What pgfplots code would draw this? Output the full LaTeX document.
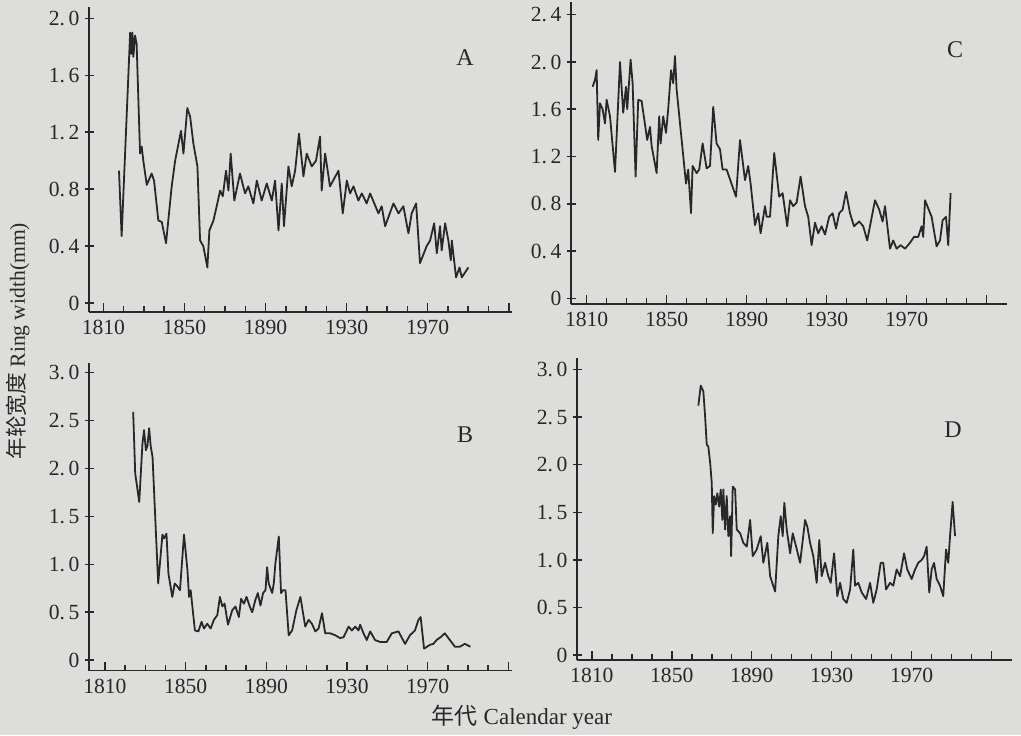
\documentclass[border=0pt]{standalone}
\usepackage{pgfplots}
\pgfplotsset{compat=1.18}
\usepackage{fontspec}
\setmainfont{Liberation Serif}
\newfontfamily\cjk{Noto Sans CJK SC}
\definecolor{paper}{RGB}{221,221,219}
\definecolor{ink}{RGB}{40,40,40}
\pgfplotsset{
  ringaxis/.style={
    scale only axis,
    axis x line*=bottom, axis y line*=left,
    axis line style={ink, line width=0.75pt},
    xtick={1810,1850,1890,1930,1970,2010},
    xticklabels={1810,1850,1890,1930,1970,{}},
    minor xtick={1820,1830,1840,1860,1870,1880,1900,1910,1920,1940,1950,1960,1980,1990,2000},
    tick align=inside,
    major tick length=4.5pt,
    minor tick length=3pt,
    tick style={ink, line width=0.75pt},
    y tick style={xshift=-2.2pt},
    yticklabel style={xshift=-1.2pt},
    xticklabel style={yshift=-0.5pt},
    tick label style={font=\fontsize{10.8}{12}\selectfont, text=ink},
    clip=false,
  },
  ringline/.style={ink, line width=0.9pt, no marks, line join=round},
}
\begin{document}
\begin{tikzpicture}
\path[use as bounding box, fill=paper] (0,0) rectangle (510.5pt,367.5pt);

% Panel A
\begin{axis}[ringaxis, at={(44.5pt,211.5pt)}, anchor=south west,
  width=211.5pt, height=152.5pt,
  xmin=1802.9, xmax=2011.6, ymin=-0.063, ymax=2.08,
  ytick={0,0.4,0.8,1.2,1.6,2.0},
  yticklabels={0,0.\,4,0.\,8,1.\,2,1.\,6,2.\,0}]
\addplot[ringline] coordinates {
(1817.7,0.93)(1819.0,0.47)(1823.2,1.90)(1823.7,1.75)(1824.3,1.90)(1824.8,1.73)
(1825.6,1.88)(1826.4,1.82)(1828.1,1.05)(1828.9,1.10)(1829.7,1.00)(1831.4,0.83)
(1833.8,0.91)(1835.0,0.86)(1837.1,0.58)(1838.8,0.57)(1840.9,0.42)(1843.7,0.82)
(1845.4,1.00)(1848.3,1.21)(1849.5,1.05)(1851.4,1.37)(1852.8,1.31)(1854.4,1.12)
(1856.4,0.96)(1857.7,0.44)(1859.3,0.40)(1861.3,0.25)(1862.3,0.51)(1864.3,0.58)
(1865.9,0.68)(1867.6,0.79)(1868.9,0.75)(1870.5,0.93)(1871.7,0.79)(1872.8,1.05)
(1874.6,0.72)(1877.4,0.91)(1879.9,0.77)(1881.5,0.82)(1884.0,0.70)(1885.7,0.86)
(1888.1,0.72)(1890.6,0.84)(1893.1,0.72)(1894.7,0.86)(1896.4,0.51)(1898.0,0.84)
(1899.1,0.54)(1901.3,0.96)(1902.9,0.82)(1904.6,0.93)(1906.5,1.19)(1908.7,0.89)
(1910.3,1.05)(1912.8,0.96)(1914.9,1.00)(1916.9,1.17)(1917.7,0.79)(1919.4,1.05)
(1921.8,0.82)(1926.0,0.93)(1928.1,0.63)(1930.1,0.86)(1931.7,0.77)(1933.4,0.82)
(1935.8,0.72)(1937.5,0.77)(1939.9,0.70)(1941.6,0.77)(1945.7,0.63)(1947.3,0.68)
(1949.0,0.54)(1953.1,0.70)(1955.6,0.63)(1958.0,0.68)(1960.5,0.49)(1962.1,0.63)
(1964.3,0.70)(1966.2,0.28)(1969.5,0.40)(1971.2,0.44)(1973.2,0.56)(1974.5,0.35)
(1976.1,0.54)(1976.9,0.37)(1978.6,0.56)(1980.2,0.44)(1981.4,0.30)(1981.9,0.44)
(1984.0,0.18)(1985.7,0.25)(1986.8,0.18)(1990.1,0.25)
};
\end{axis}

% Panel B
\begin{axis}[ringaxis, at={(44.5pt,32.15pt)}, anchor=south west,
  width=211.5pt, height=153.85pt,
  xmin=1802.1, xmax=2011.8, ymin=-0.11, ymax=3.10,
  ytick={0,0.5,1.0,1.5,2.0,2.5,3.0},
  yticklabels={0,0.\,5,1.\,0,1.\,5,2.\,0,2.\,5,3.\,0}]
\addplot[ringline] coordinates {
(1824.0,2.59)(1825.0,1.95)(1827.0,1.65)(1828.6,2.26)(1829.4,2.40)(1830.3,2.19)
(1831.1,2.24)(1831.9,2.42)(1832.7,2.23)(1833.6,2.12)(1836.4,0.80)(1838.5,1.31)
(1839.3,1.27)(1840.5,1.32)(1841.5,0.90)(1843.4,0.66)(1844.6,0.80)(1845.9,0.77)
(1847.2,0.73)(1849.2,1.31)(1850.9,0.94)(1851.7,0.66)(1852.5,0.73)(1854.6,0.31)
(1856.3,0.30)(1857.9,0.40)(1859.1,0.33)(1860.7,0.38)(1862.4,0.33)(1864.0,0.42)
(1865.7,0.47)(1867.0,0.66)(1868.2,0.56)(1869.3,0.59)(1871.0,0.37)(1873.1,0.52)
(1874.7,0.56)(1876.4,0.45)(1877.5,0.64)(1878.9,0.59)(1880.2,0.66)(1881.8,0.56)
(1883.0,0.50)(1884.6,0.63)(1885.8,0.70)(1887.1,0.57)(1888.4,0.70)(1889.6,0.73)
(1890.4,0.97)(1891.2,0.80)(1892.9,0.70)(1893.7,0.80)(1894.5,1.01)(1896.2,1.29)
(1897.3,0.70)(1898.3,0.73)(1899.5,0.73)(1901.1,0.26)(1902.8,0.31)(1904.9,0.52)
(1906.9,0.66)(1909.3,0.35)(1911.0,0.42)(1912.6,0.38)(1914.3,0.30)(1915.9,0.33)
(1917.6,0.49)(1919.2,0.28)(1921.7,0.28)(1924.2,0.26)(1926.6,0.23)(1928.3,0.24)
(1930.8,0.35)(1932.4,0.31)(1934.1,0.35)(1935.7,0.31)(1936.5,0.37)(1938.2,0.28)
(1939.8,0.21)(1941.5,0.30)(1943.9,0.21)(1946.4,0.19)(1949.7,0.19)(1952.2,0.28)
(1955.5,0.30)(1958.8,0.17)(1961.2,0.26)(1963.7,0.31)(1965.4,0.42)(1966.5,0.45)
(1968.2,0.12)(1971.1,0.16)(1972.8,0.17)(1974.4,0.21)(1976.4,0.24)(1978.5,0.28)
(1981.0,0.21)(1983.5,0.14)(1985.9,0.14)(1988.4,0.17)(1991.2,0.14)
};
\end{axis}

% Panel C
\begin{axis}[ringaxis, at={(285.5pt,215.5pt)}, anchor=south west,
  width=218pt, height=151.15pt,
  xmin=1802.2, xmax=2020.2, ymin=-0.048, ymax=2.51,
  ytick={0,0.4,0.8,1.2,1.6,2.0,2.4},
  yticklabels={0,0.\,4,0.\,8,1.\,2,1.\,6,2.\,0,2.\,4}]
\addplot[ringline] coordinates {
(1813.0,1.79)(1814.2,1.85)(1815.0,1.93)(1815.8,1.34)(1816.7,1.65)(1818.0,1.60)
(1819.2,1.48)(1820.0,1.68)(1821.7,1.54)(1824.2,1.07)(1826.7,2.00)(1828.3,1.57)
(1829.7,1.79)(1830.3,1.60)(1832.0,2.02)(1833.0,1.82)(1834.5,1.03)(1835.8,1.68)
(1837.5,1.67)(1840.3,1.34)(1841.7,1.45)(1842.5,1.29)(1845.0,1.06)(1846.3,1.54)
(1847.0,1.31)(1848.3,1.54)(1849.7,1.40)(1850.8,1.60)(1852.2,1.93)(1853.3,1.82)
(1854.2,2.05)(1855.0,1.77)(1856.7,1.48)(1859.7,0.97)(1860.8,1.09)(1862.2,0.72)
(1863.0,1.12)(1865.0,1.06)(1866.3,1.09)(1868.0,1.31)(1870.0,1.10)(1871.7,1.12)
(1873.3,1.62)(1875.0,1.31)(1876.7,1.26)(1878.0,1.09)(1880.0,1.09)(1884.7,0.86)
(1886.7,1.34)(1889.2,1.00)(1890.8,1.12)(1892.0,0.97)(1894.2,0.62)(1895.8,0.72)
(1897.0,0.55)(1899.2,0.78)(1900.0,0.69)(1901.7,0.69)(1903.8,1.23)(1906.3,0.86)
(1908.0,0.89)(1910.3,0.61)(1911.7,0.83)(1913.3,0.78)(1915.0,0.81)(1917.0,1.03)
(1919.2,0.78)(1920.8,0.69)(1922.5,0.45)(1924.2,0.64)(1925.8,0.55)(1927.5,0.61)
(1929.2,0.54)(1931.3,0.69)(1933.0,0.72)(1934.7,0.59)(1936.3,0.72)(1938.0,0.75)
(1939.7,0.90)(1941.7,0.72)(1943.7,0.61)(1946.3,0.65)(1948.3,0.61)(1950.3,0.49)
(1954.2,0.83)(1956.3,0.75)(1958.0,0.65)(1959.2,0.78)(1961.7,0.42)(1963.3,0.49)
(1965.0,0.42)(1967.0,0.45)(1969.2,0.42)(1971.7,0.47)(1973.7,0.52)(1975.8,0.52)
(1977.5,0.61)(1978.3,0.52)(1979.2,0.83)(1982.5,0.69)(1985.0,0.44)(1986.7,0.49)
(1988.0,0.66)(1989.7,0.69)(1990.8,0.45)(1992.0,0.89)
};
\end{axis}

% Panel D
\begin{axis}[ringaxis, at={(288.5pt,37.5pt)}, anchor=south west,
  width=217.5pt, height=151pt,
  xmin=1802.6, xmax=2020.2, ymin=-0.05, ymax=3.12,
  ytick={0,0.5,1.0,1.5,2.0,2.5,3.0},
  yticklabels={0,0.\,5,1.\,0,1.\,5,2.\,0,2.\,5,3.\,0}]
\addplot[ringline] coordinates {
(1863.3,2.62)(1864.5,2.83)(1865.8,2.77)(1866.7,2.50)(1867.5,2.21)(1868.3,2.19)
(1869.2,2.02)(1870.0,1.81)(1870.5,1.28)(1871.2,1.67)(1872.0,1.58)(1872.8,1.70)
(1873.7,1.56)(1874.5,1.74)(1875.3,1.42)(1875.8,1.74)(1876.7,1.32)(1877.5,1.67)
(1878.3,1.25)(1879.2,1.46)(1879.7,1.04)(1880.5,1.77)(1881.7,1.74)(1882.5,1.32)
(1884.2,1.28)(1885.8,1.18)(1887.5,1.14)(1889.2,1.42)(1890.5,1.04)(1892.5,1.11)
(1894.5,1.25)(1895.8,0.97)(1897.8,1.18)(1899.2,0.83)(1901.7,0.67)(1903.3,1.25)
(1904.5,1.46)(1905.5,1.25)(1906.3,1.60)(1907.5,1.32)(1909.2,1.07)(1910.5,1.28)
(1912.2,1.14)(1914.2,0.97)(1916.7,1.42)(1917.8,1.35)(1919.2,1.18)(1920.8,1.04)
(1922.5,0.76)(1923.8,1.21)(1925.0,0.83)(1926.7,0.97)(1928.3,0.83)(1929.5,0.76)
(1931.2,1.07)(1932.8,0.62)(1934.2,0.76)(1935.8,0.59)(1937.5,0.55)(1939.2,0.69)
(1940.8,1.11)(1941.7,0.73)(1943.3,0.76)(1945.0,0.66)(1947.2,0.59)(1949.2,0.76)
(1950.8,0.55)(1952.5,0.69)(1954.5,0.97)(1955.8,0.97)(1957.2,0.69)(1959.2,0.76)
(1960.8,0.73)(1962.5,0.90)(1964.2,0.83)(1966.2,1.07)(1967.8,0.90)(1970.0,0.80)
(1971.7,0.90)(1973.3,0.97)(1975.0,1.00)(1976.2,1.04)(1977.5,1.14)(1978.8,0.66)
(1980.0,0.90)(1981.2,0.97)(1982.5,0.80)(1984.2,0.73)(1985.8,0.62)(1987.2,1.11)
(1988.3,0.97)(1989.2,1.25)(1990.5,1.61)(1991.7,1.25)
};
\end{axis}

% panel letters
\node[text=ink, font=\fontsize{12}{14}\selectfont] at (232.5pt,338.5pt) {A};
\node[text=ink, font=\fontsize{12}{14}\selectfont] at (477.5pt,342.5pt) {C};
\node[text=ink, font=\fontsize{12}{14}\selectfont] at (232.5pt,150pt) {B};
\node[text=ink, font=\fontsize{12}{14}\selectfont] at (476.5pt,152.5pt) {D};

% axis titles
\node[text=ink, rotate=90, font=\fontsize{10.8}{12}\selectfont] at (9pt,197pt) {{\cjk 年轮宽度}\ Ring width(mm)};
\node[text=ink, font=\fontsize{11.5}{13}\selectfont] at (261pt,8.8pt) {{\cjk 年代}\ Calendar year};
\end{tikzpicture}
\end{document}
